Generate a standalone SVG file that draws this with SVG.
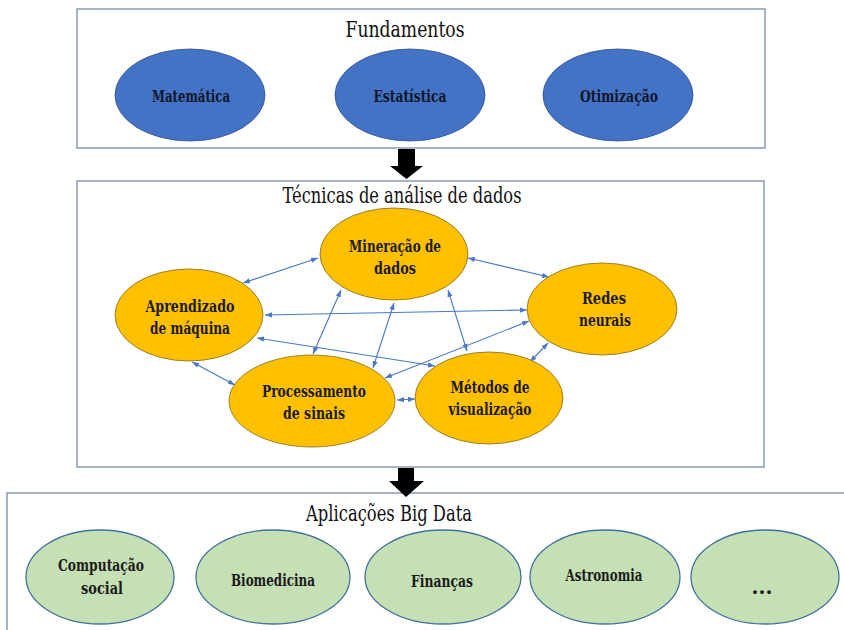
<svg xmlns="http://www.w3.org/2000/svg" width="844" height="630" viewBox="0 0 844 630">
  <style>
    .panel { fill: #ffffff; stroke: #8a9bb2; stroke-width: 1.5; }
    .title { font-family: "DejaVu Serif", "Liberation Serif", serif; font-size: 22px; fill: #111111; text-anchor: middle; }
    .lbl { font-family: "DejaVu Serif", "Liberation Serif", serif; font-size: 17.5px; font-weight: bold; fill: #1a1a1a; text-anchor: middle; }
    .dark { fill: #10162a; }
    .base { fill: #4472c4; stroke: #2f528f; stroke-width: 0.8; }
    .tech { fill: #ffc000; stroke: #7f6a1e; stroke-width: 0.8; }
    .app { fill: #c5e0b4; stroke: #41719c; stroke-width: 1.3; }
    .link { stroke: #4a78c4; stroke-width: 1.1; fill: none; marker-start: url(#tip); marker-end: url(#tip); }
    .block { fill: #000000; }
  </style>
  <defs>
    <marker id="tip" viewBox="0 0 8 6" refX="8" refY="3" markerWidth="7" markerHeight="5.5" markerUnits="userSpaceOnUse" orient="auto-start-reverse">
      <path d="M0,0 L8,3 L0,6 z" fill="#4a78c4"/>
    </marker>
  </defs>

  <rect width="844" height="630" fill="#ffffff"/>

  <!-- Panels -->
  <g id="panel-fundamentos">
    <rect class="panel" x="77" y="9" width="688" height="139"/>
    <text class="title" x="405" y="37" textLength="119" lengthAdjust="spacingAndGlyphs">Fundamentos</text>
  </g>
  <g id="panel-tecnicas">
    <rect class="panel" x="77" y="181" width="687" height="286"/>
    <text class="title" x="402" y="203" textLength="239" lengthAdjust="spacingAndGlyphs">Técnicas de análise de dados</text>
  </g>
  <g id="panel-aplicacoes">
    <rect class="panel" x="7" y="493" width="845" height="150"/>
    <text class="title" x="389" y="521" textLength="166" lengthAdjust="spacingAndGlyphs">Aplicações Big Data</text>
  </g>

  <!-- Block arrows between panels -->
  <g id="flow-arrows">
    <path class="block" d="M398,149 H415 V166 H423 L406.5,179 L390,166 H398 Z"/>
    <path class="block" d="M398,468 H414 V481 H424 L406,497 L389,481 H398 Z"/>
  </g>

  <!-- Fundamentos nodes -->
  <g id="matematica">
    <ellipse class="base" cx="190" cy="95" rx="75" ry="46"/>
    <text class="lbl dark" x="191" y="102" textLength="78" lengthAdjust="spacingAndGlyphs">Matemática</text>
  </g>
  <g id="estatistica">
    <ellipse class="base" cx="410" cy="95" rx="75" ry="46"/>
    <text class="lbl dark" x="410" y="102" textLength="73" lengthAdjust="spacingAndGlyphs">Estatística</text>
  </g>
  <g id="otimizacao">
    <ellipse class="base" cx="618" cy="95" rx="75" ry="46"/>
    <text class="lbl dark" x="619" y="102" textLength="78" lengthAdjust="spacingAndGlyphs">Otimização</text>
  </g>

  <!-- Connectors between techniques -->
  <g id="connectors">
    <line class="link" x1="243" y1="283" x2="318" y2="258"/>
    <line class="link" x1="468" y1="258" x2="549" y2="277"/>
    <line class="link" x1="265" y1="315" x2="527" y2="310"/>
    <line class="link" x1="257" y1="338" x2="435" y2="366"/>
    <line class="link" x1="341" y1="290" x2="313" y2="354"/>
    <line class="link" x1="394" y1="303" x2="373" y2="368"/>
    <line class="link" x1="448" y1="290" x2="467" y2="351"/>
    <line class="link" x1="385" y1="378" x2="529" y2="321"/>
    <line class="link" x1="192" y1="362" x2="235" y2="385"/>
    <line class="link" x1="397" y1="400" x2="415" y2="399"/>
    <line class="link" x1="530" y1="362" x2="548" y2="343"/>
  </g>

  <!-- Technique nodes -->
  <g id="mineracao">
    <ellipse class="tech" cx="394" cy="254" rx="74" ry="46"/>
    <text class="lbl" x="395" y="252" textLength="92" lengthAdjust="spacingAndGlyphs">Mineração de</text>
    <text class="lbl" x="395" y="274" textLength="42" lengthAdjust="spacingAndGlyphs">dados</text>
  </g>
  <g id="aprendizado">
    <ellipse class="tech" cx="189" cy="315" rx="74" ry="46"/>
    <text class="lbl" x="190" y="312" textLength="89" lengthAdjust="spacingAndGlyphs">Aprendizado</text>
    <text class="lbl" x="190" y="334" textLength="80" lengthAdjust="spacingAndGlyphs">de máquina</text>
  </g>
  <g id="redes">
    <ellipse class="tech" cx="602" cy="309" rx="75" ry="46"/>
    <text class="lbl" x="604" y="304" textLength="44" lengthAdjust="spacingAndGlyphs">Redes</text>
    <text class="lbl" x="605" y="326" textLength="52" lengthAdjust="spacingAndGlyphs">neurais</text>
  </g>
  <g id="processamento">
    <ellipse class="tech" cx="312" cy="401" rx="83" ry="46"/>
    <text class="lbl" x="314" y="397" textLength="104" lengthAdjust="spacingAndGlyphs">Processamento</text>
    <text class="lbl" x="314" y="419" textLength="62" lengthAdjust="spacingAndGlyphs">de sinais</text>
  </g>
  <g id="metodos">
    <ellipse class="tech" cx="489" cy="398" rx="74" ry="46"/>
    <text class="lbl" x="490" y="393" textLength="79" lengthAdjust="spacingAndGlyphs">Métodos de</text>
    <text class="lbl" x="490" y="415" textLength="83" lengthAdjust="spacingAndGlyphs">visualização</text>
  </g>

  <!-- Application nodes -->
  <g id="computacao">
    <ellipse class="app" cx="100" cy="577" rx="74" ry="47"/>
    <text class="lbl" x="101" y="571" textLength="86" lengthAdjust="spacingAndGlyphs">Computação</text>
    <text class="lbl" x="102" y="594" textLength="42" lengthAdjust="spacingAndGlyphs">social</text>
  </g>
  <g id="biomedicina">
    <ellipse class="app" cx="273" cy="577" rx="77" ry="47"/>
    <text class="lbl" x="273" y="586" textLength="84" lengthAdjust="spacingAndGlyphs">Biomedicina</text>
  </g>
  <g id="financas">
    <ellipse class="app" cx="443" cy="577" rx="78" ry="47"/>
    <text class="lbl" x="442" y="587" textLength="62" lengthAdjust="spacingAndGlyphs">Finanças</text>
  </g>
  <g id="astronomia">
    <ellipse class="app" cx="605" cy="577" rx="75" ry="47"/>
    <text class="lbl" x="604" y="581" textLength="77" lengthAdjust="spacingAndGlyphs">Astronomia</text>
  </g>
  <g id="outros">
    <ellipse class="app" cx="765" cy="577" rx="74" ry="47"/>
    <text class="lbl" x="762" y="594" style="font-size:20px">...</text>
  </g>
</svg>
